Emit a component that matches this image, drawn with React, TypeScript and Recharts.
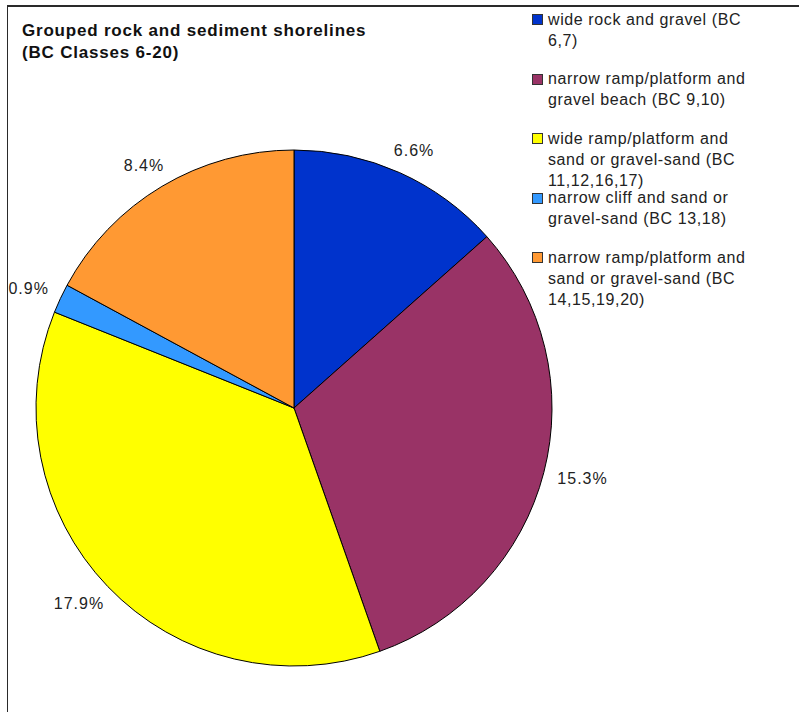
import React from "react";
import { PieChart, Pie, Cell, Legend } from "recharts";

const title = ["Grouped rock and sediment shorelines", "(BC Classes 6-20)"];

const categories = [
  "wide rock and gravel (BC 6,7)",
  "narrow ramp/platform and gravel beach (BC 9,10)",
  "wide ramp/platform and sand or gravel-sand (BC 11,12,16,17)",
  "narrow cliff and sand or gravel-sand (BC 13,18)",
  "narrow ramp/platform and sand or gravel-sand (BC 14,15,19,20)",
];
const values = [6.6, 15.3, 17.9, 0.9, 8.4];
const colors = ["#0033CC", "#993366", "#FFFF00", "#3399FF", "#FF9933"];

const data = categories.map((name, i) => ({ name, value: values[i] }));

const FONT = "'Liberation Sans', Arial, sans-serif";
const RAD = Math.PI / 180;

const renderLabel = (props: any) => {
  const { cx, cy, midAngle, outerRadius, value } = props;
  const text = `${Number(value).toFixed(1)}%`;
  const w = text.length * 10;
  const h = 18;
  const r = outerRadius + 15;
  const c = Math.cos(-midAngle * RAD);
  const s = Math.sin(-midAngle * RAD);
  const x = cx + r * c + (w / 2) * c;
  const y = cy + r * s + (h / 2) * s;
  return (
    <text
      x={x}
      y={y}
      textAnchor="middle"
      dominantBaseline="central"
      fill="#222"
      fontSize={16}
      letterSpacing={1}
      fontFamily={FONT}
    >
      {text}
    </text>
  );
};

// legend follows the category order (recharts sorts its own payload)
const renderLegend = () => (
  <div style={{ fontFamily: FONT, fontSize: 16, letterSpacing: 0.6, lineHeight: "21px", color: "#222" }}>
    {categories.map((name, i) => (
      <div key={name} style={{ position: "relative", height: 59.5 }}>
        <div
          style={{
            position: "absolute",
            left: 0,
            top: 5.5,
            width: 9,
            height: 9,
            background: colors[i],
            border: "1px solid #333",
          }}
        />
        <div style={{ position: "absolute", left: 16, top: 0, width: 208 }}>{name}</div>
      </div>
    ))}
  </div>
);

export default function App() {
  return (
    <div style={{ position: "absolute", left: 0, top: 0, width: 799, height: 712, overflow: "hidden", background: "#fff" }}>
      <div
        style={{
          position: "absolute",
          left: 7,
          top: 5,
          width: 1000,
          height: 1000,
          borderTop: "2px solid #2a2a2a",
          borderLeft: "1.5px solid #2a2a2a",
        }}
      />
      <div
        style={{
          position: "absolute",
          left: 22,
          top: 20,
          fontFamily: FONT,
          fontWeight: "bold",
          fontSize: 17,
          letterSpacing: 0.8,
          lineHeight: "22px",
          color: "#111",
        }}
      >
        {title.map((t, i) => (
          <div key={i}>{t}</div>
        ))}
      </div>
      <div style={{ position: "absolute", left: 0, top: 0 }}>
        <PieChart width={799} height={712} margin={{ top: 0, right: 0, bottom: 0, left: 0 }}>
          <Pie
            data={data}
            dataKey="value"
            nameKey="name"
            cx={294}
            cy={408}
            outerRadius={258}
            startAngle={90}
            endAngle={-270}
            stroke="#000"
            strokeWidth={1}
            label={renderLabel}
            labelLine={false}
            isAnimationActive={false}
          >
            {data.map((_, i) => (
              <Cell key={i} fill={colors[i]} />
            ))}
          </Pie>
          <Legend
            layout="vertical"
            align="right"
            verticalAlign="top"
            content={renderLegend}
            wrapperStyle={{ position: "absolute", left: 532, top: 8.5, width: 240, right: "auto" }}
          />
        </PieChart>
      </div>
    </div>
  );
}
